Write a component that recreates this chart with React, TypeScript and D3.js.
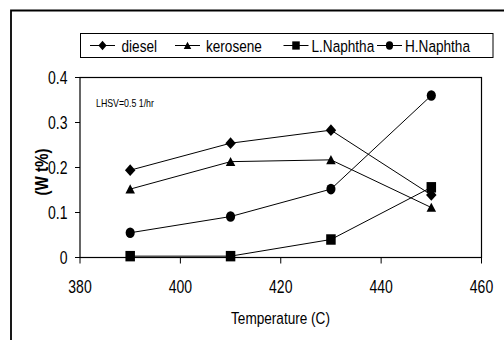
import React from "react";
import * as d3 from "d3";

const temps = [390, 410, 430, 450];
const diesel = [0.194, 0.254, 0.283, 0.139];
const kerosene = [0.152, 0.213, 0.217, 0.111];
const lNaphtha = [0.003, 0.003, 0.040, 0.156];
const hNaphtha = [0.055, 0.091, 0.152, 0.36];
const seriesNames = ["diesel", "kerosene", "L.Naphtha", "H.Naphtha"];
const xTicks = [380, 400, 420, 440, 460];
const yTicks = [0, 0.1, 0.2, 0.3, 0.4];
const yTickLabels = ["0", "0.1", "0.2", "0.3", "0.4"];

const FONT = "'Liberation Sans', Arial, sans-serif";
const SX = 0.8;

function Marker({ type, x, y, s }: { type: string; x: number; y: number; s: number }) {
  if (type === "diamond") {
    const w = s * 0.55, h = s * 0.62;
    return <path d={`M${x},${y - h}L${x + w},${y}L${x},${y + h}L${x - w},${y}Z`} fill="#000" />;
  }
  if (type === "triangle") {
    const w = s * 0.5, h = s * 0.5;
    return <path d={`M${x},${y - h}L${x + w},${y + h * 0.9}L${x - w},${y + h * 0.9}Z`} fill="#000" />;
  }
  if (type === "square") {
    const w = s * 0.5;
    return <rect x={x - w} y={y - w * 1.1} width={2 * w} height={2.2 * w} fill="#000" />;
  }
  return <ellipse cx={x} cy={y} rx={s * 0.48} ry={s * 0.56} fill="#000" />;
}

function T({ x, y, size, anchor = "start", bold = false, children }: any) {
  return (
    <g transform={`translate(${x},${y}) scale(${SX},1)`}>
      <text x={0} y={0} fontFamily={FONT} fontSize={size} fontWeight={bold ? "bold" : "normal"} textAnchor={anchor} fill="#000">
        {children}
      </text>
    </g>
  );
}

export default function App() {
  const W = 504, H = 340;
  const x = d3.scaleLinear().domain([380, 460]).range([80, 481.5]);
  const y = d3.scaleLinear().domain([0, 0.4]).range([257.5, 77.5]);
  const data = [diesel, kerosene, lNaphtha, hNaphtha];
  const types = ["diamond", "triangle", "square", "circle"];
  const line = d3.line<number>().x((_, i) => x(temps[i])).y((v) => y(v));

  const legendItems = [
    { lx: 90, tx: 121.5 },
    { lx: 175, tx: 206 },
    { lx: 283.5, tx: 311.5 },
    { lx: 377, tx: 405 },
  ];

  return (
    <svg width={W} height={H} style={{ position: "absolute", left: 0, top: 0 }}>
      <rect width={W} height={H} fill="#fff" />
      <path d="M11,340V10.5H504" fill="none" stroke="#000" strokeWidth={1.8} />

      <rect x={x(380)} y={y(0.4)} width={x(460) - x(380)} height={y(0) - y(0.4)} fill="none" stroke="#000" strokeWidth={1.2} />

      {yTicks.map((t, i) => (
        <g key={"y" + i}>
          <line x1={x(380) - 5} x2={x(380)} y1={y(t)} y2={y(t)} stroke="#000" strokeWidth={1} />
          <T x={67.5} y={y(t) + 6.5} size={17.5} anchor="end">{yTickLabels[i]}</T>
        </g>
      ))}
      {xTicks.map((t) => (
        <g key={"x" + t}>
          <line x1={x(t)} x2={x(t)} y1={y(0)} y2={y(0) + 6} stroke="#000" strokeWidth={1} />
          <T x={x(t)} y={293} size={17.5} anchor="middle">{String(t)}</T>
        </g>
      ))}

      <T x={280.5} y={324} size={17} anchor="middle">Temperature (C)</T>
      <g transform="translate(48,172) rotate(-90)">
        <T x={0} y={0} size={19} anchor="middle" bold>(W t%)</T>
      </g>
      <T x={96} y={107} size={11}>LHSV=0.5 1/hr</T>

      {data.map((vals, si) => (
        <g key={"s" + si}>
          <path d={line(vals) || ""} fill="none" stroke="#000" strokeWidth={1} />
          {vals.map((v, i) => (
            <Marker key={i} type={types[si]} x={x(temps[i])} y={y(v)} s={9.5} />
          ))}
        </g>
      ))}

      <rect x={80.5} y={33.5} width={412.5} height={24} fill="#fff" stroke="#000" strokeWidth={1} />
      {seriesNames.map((n, i) => (
        <g key={"l" + i}>
          <line x1={legendItems[i].lx} x2={legendItems[i].lx + 25} y1={45.5} y2={45.5} stroke="#000" strokeWidth={1} />
          <Marker type={types[i]} x={legendItems[i].lx + 12.5} y={45.5} s={7.5} />
          <T x={legendItems[i].tx} y={51.5} size={17}>{n}</T>
        </g>
      ))}
    </svg>
  );
}
